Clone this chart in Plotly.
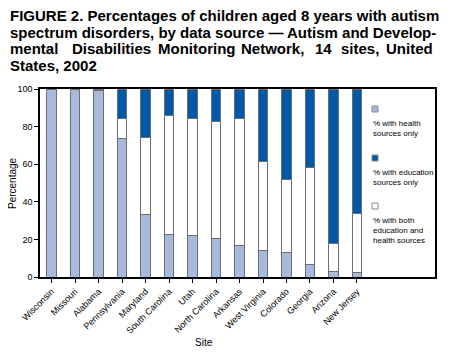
import plotly.graph_objects as go

sites = ["Wisconsin", "Missouri", "Alabama", "Pennsylvania", "Maryland", "South Carolina",
         "Utah", "North Carolina", "Arkansas", "West Virginia", "Colorado", "Georgia",
         "Arizona", "New Jersey"]
health_only = [100, 100, 99, 73.5, 33.5, 22.5, 22, 20.5, 17, 14, 13.2, 6.4, 2.8, 2.3]
both_sources = [0, 0, 1, 11, 40.5, 63.5, 62.5, 62, 67.5, 47.2, 38.9, 51.6, 14.8, 31.7]
education_only = [0, 0, 0, 15.5, 26, 14, 15.5, 17.5, 15.5, 38.8, 47.9, 42, 82.4, 66]
y_ticks = [0, 20, 40, 60, 80, 100]

FONT = "Arial, 'Liberation Sans', Helvetica, sans-serif"
C_HEALTH = "#a8b9de"
C_EDU = "#0058a6"
C_BOTH = "#ffffff"

# page offset of the figure (browser default body margin)
OFF = 8
W, H = 450 - OFF, 357 - OFF
PL, PR, PT, PB = 40, 435, 89, 277   # plot frame in page pixels

fig = go.Figure()
for name, vals, col in [("% with health sources only", health_only, C_HEALTH),
                        ("% with both education and health sources", both_sources, C_BOTH),
                        ("% with education sources only", education_only, C_EDU)]:
    fig.add_trace(go.Bar(x=sites, y=vals, name=name, width=0.4,
                         marker=dict(color=col, line=dict(color="#6e6e6e", width=1)),
                         showlegend=False))

fig.update_layout(
    barmode="stack",
    width=W, height=H,
    margin=dict(l=PL - OFF, r=W - (PR - OFF), t=PT - OFF, b=H - (PB - OFF), autoexpand=False),
    paper_bgcolor="white", plot_bgcolor="white",
    font=dict(family=FONT, color="black"),
    xaxis=dict(range=[-0.49, 16.32], showline=True, linecolor="black", linewidth=1.5,
               mirror=True, ticks="outside", ticklen=4, tickcolor="black",
               tickangle=-45, tickfont=dict(size=9), automargin=False),
    yaxis=dict(range=[0, 100], tickvals=y_ticks, showline=True, linecolor="black",
               linewidth=1.5, mirror=True, ticks="outside", ticklen=4, tickcolor="black",
               showgrid=False, zeroline=False, tickfont=dict(size=9), automargin=False),
)

def px2x(px):
    return (px - PL) / (PR - PL)
def py2y(py):
    return (PB - py) / (PB - PT)

TS = 15
title_lines = [
    ("FIGURE 2. Percentages of children aged 8 years with autism", 15),
    ("spectrum disorders, by data source \u2014 Autism and Develop-", 32),
    ("States, 2002", 65),
]
for t, yy in title_lines:
    fig.add_annotation(text="<b>%s</b>" % t, xref="paper", yref="paper",
                       x=px2x(8), y=py2y(yy), xanchor="left", yanchor="middle",
                       showarrow=False, font=dict(size=TS, family=FONT))
# justified third line: words placed to fill the line width
line3 = [("mental", 8, "left"), ("Disabilities", 70, "left"), ("Monitoring", 156, "left"),
         ("Network,", 239, "left"), ("14", 313, "left"), ("sites,", 339, "left"),
         ("United", 435, "right")]
for w, px, anc in line3:
    fig.add_annotation(text="<b>%s</b>" % w, xref="paper", yref="paper",
                       x=px2x(px), y=py2y(49), xanchor=anc,
                       yanchor="middle", showarrow=False, font=dict(size=TS, family=FONT))

# axis titles
fig.add_annotation(text="Site", xref="paper", yref="paper", x=px2x(204), y=py2y(342),
                   xanchor="center", yanchor="middle", showarrow=False,
                   font=dict(size=10, family=FONT))
fig.add_annotation(text="Percentage", xref="paper", yref="paper", x=px2x(12), y=py2y(183),
                   xanchor="center", yanchor="middle", textangle=-90, showarrow=False,
                   font=dict(size=10, family=FONT))

# legend (manual, symbol above text)
legend_items = [
    (C_HEALTH, ["% with health", "sources only"], 109),
    (C_EDU, ["% with education", "sources only"], 158),
    (C_BOTH, ["% with both", "education and", "health sources"], 206),
]
for col, lines, sy in legend_items:
    fig.add_shape(type="rect", xref="paper", yref="paper",
                  x0=px2x(372), x1=px2x(378), y0=py2y(sy + 3), y1=py2y(sy - 3),
                  fillcolor=col, line=dict(color="#888888", width=1))
    for i, ln in enumerate(lines):
        fig.add_annotation(text=ln, xref="paper", yref="paper", x=px2x(371),
                           y=py2y(sy + 14 + 10 * i), xanchor="left", yanchor="middle",
                           showarrow=False, font=dict(size=8, family=FONT))

fig.write_html("out.html")
